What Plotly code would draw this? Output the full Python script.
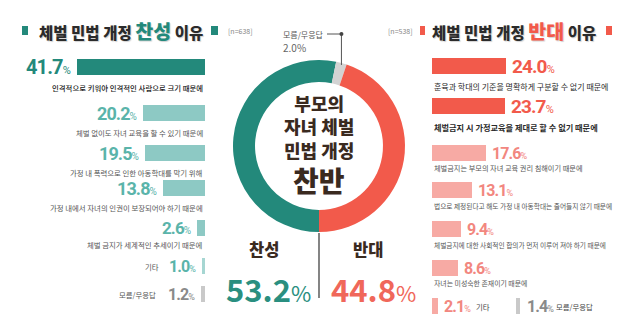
import math
import plotly.graph_objects as go

# ---------------- data ----------------
support_reasons = [
    "인격적으로 키워야 인격적인 사람으로 크기 때문에",
    "체벌 없이도 자녀 교육을 할 수 있기 때문에",
    "가정 내 폭력으로 인한 아동학대를 막기 위해",
    "가정 내에서 자녀의 인권이 보장되어야 하기 때문에",
    "체벌 금지가 세계적인 추세이기 때문에",
    "기타",
    "모름/무응답",
]
support_values = [41.7, 20.2, 19.5, 13.8, 2.6, 1.0, 1.2]

oppose_reasons = [
    "훈육과 학대의 기준을 명확하게 구분할 수 없기 때문에",
    "체벌금지 시 가정교육을 제대로 할 수 없기 때문에",
    "체벌금지는 부모의 자녀 교육 권리 침해이기 때문에",
    "법으로 제정된다고 해도 가정 내 아동학대는 줄어들지 않기 때문에",
    "체벌금지에 대한 사회적인 합의가 먼저 이루어 져야 하기 때문에",
    "자녀는 미성숙한 존재이기 때문에",
    "기타",
]
oppose_values = [24.0, 23.7, 17.6, 13.1, 9.4, 8.6, 2.1]
oppose_unknown_label = "모름/무응답"
oppose_unknown_value = 1.4

overall_labels = ["찬성", "모름/무응답", "반대"]
overall_values = [53.2, 2.0, 44.8]

n_support = 638
n_oppose = 538

# ---------------- layout constants ----------------
W, H = 640, 329
KR = "Noto Sans CJK KR"
NUM = "Roboto, Noto Sans CJK KR"

TEAL_DARK = "#23897b"
TEAL_LIGHT = "#8dc9c4"
TEAL_PALE = "#a6d6d2"
TEAL_TEXT = "#5ab4aa"
RED = "#f25a4b"
PINK = "#f7aaa4"
PINK_TEXT = "#f2877f"
GREY_BAR = "#c9c9c9"
GREY_TEXT = "#8a8a8a"
BROWN = "#3a2a1f"
TITLE_SHADOW = "1px 1px 1px rgba(0,0,0,0.18)"

PX_PER_PCT = 3.07          # bar length per percentage point
L_EDGE = 205               # left bars grow leftwards from here
R_EDGE = 432               # right bars grow rightwards from here
R_UNK_EDGE = 516           # start of the "모름/무응답" bar on the right
SPAN = 45                  # axis span in percent

left_rows = [67, 113, 153, 188, 228, 266, 294]
left_text_rows = [87, 132, 172, 207, 244]
right_rows = [66, 106, 153, 190, 229, 268, 306]
right_text_rows = [86, 127, 168, 206, 245, 283]

support_colors = [TEAL_DARK, TEAL_LIGHT, TEAL_LIGHT, TEAL_LIGHT, TEAL_LIGHT, TEAL_PALE, GREY_BAR]
oppose_colors = [RED, RED, PINK, PINK, PINK, PINK, PINK]


def pxx(x):
    return x / W


def pct(v, pct_size, track=-0.9):
    """Bold, tightly tracked number followed by a light, smaller percent sign."""
    return (f"<span style='letter-spacing:{track}px'><b>{v:.1f}</b></span>"
            f"<span style='font-size:{pct_size}px;font-weight:normal'>%</span>")


fig = go.Figure()

# support reasons (bars grow to the left)
fig.add_trace(go.Bar(
    x=support_values, y=left_rows, orientation="h", width=16,
    marker=dict(color=support_colors, line=dict(width=0)),
    xaxis="x", yaxis="y", hoverinfo="skip", showlegend=False,
))
# oppose reasons (bars grow to the right)
fig.add_trace(go.Bar(
    x=oppose_values, y=right_rows, orientation="h", width=16,
    marker=dict(color=oppose_colors, line=dict(width=0)),
    xaxis="x2", yaxis="y", hoverinfo="skip", showlegend=False,
))
fig.add_trace(go.Bar(
    x=[oppose_unknown_value], y=[right_rows[-1]], orientation="h", width=16,
    marker=dict(color=GREY_BAR, line=dict(width=0)),
    xaxis="x3", yaxis="y", hoverinfo="skip", showlegend=False,
))

# overall donut
cx, cy, r = 319, 146, 86
fig.add_trace(go.Pie(
    values=overall_values, labels=overall_labels, sort=False,
    direction="clockwise", rotation=180, hole=0.744,
    marker=dict(colors=[TEAL_DARK, "#d3d3d3", RED], line=dict(width=0)),
    textinfo="none", hoverinfo="label+percent", showlegend=False,
    domain=dict(x=[pxx(cx - r), pxx(cx + r)], y=[1 - (cy + r) / H, 1 - (cy - r) / H]),
))

ann = []

# percentage labels, support side
left_sizes = [(20, 11), (18, 10), (18, 10), (18, 10), (17, 10), (16, 9), (16, 9)]
left_label_colors = [TEAL_DARK, TEAL_TEXT, TEAL_TEXT, TEAL_TEXT, TEAL_TEXT, TEAL_TEXT, GREY_TEXT]
for v, row, (ns, ps), col in zip(support_values, left_rows, left_sizes, left_label_colors):
    ann.append(dict(xref="x", yref="y", x=v, y=row, xanchor="right", yanchor="middle",
                    xshift=-4, text=pct(v, ps), showarrow=False,
                    font=dict(family=NUM, size=ns, color=col)))
for txt, row, i in zip(support_reasons[:5], left_text_rows, range(5)):
    ann.append(dict(xref="x", yref="y", x=0, y=row, xanchor="right", yanchor="middle",
                    text=txt, showarrow=False,
                    font=dict(family=KR, size=7.4,
                              color="#222222" if i == 0 else "#555555",
                              weight=500 if i == 0 else 400)))
# small captions beside 기타 / 모름
ann.append(dict(xref="paper", yref="y", x=pxx(161), y=left_rows[5], xanchor="right",
                yanchor="middle", text=support_reasons[5], showarrow=False,
                font=dict(family=KR, size=7.4, color="#555555")))
ann.append(dict(xref="paper", yref="y", x=pxx(158), y=left_rows[6], xanchor="right",
                yanchor="middle", text=support_reasons[6], showarrow=False,
                font=dict(family=KR, size=7.4, color="#555555")))

# percentage labels, oppose side
right_sizes = [(19, 11), (19, 11), (16, 9), (16, 9), (16, 9), (16, 9), (16, 9)]
right_label_colors = [RED, RED, PINK_TEXT, PINK_TEXT, PINK_TEXT, PINK_TEXT, PINK_TEXT]
for v, row, (ns, ps), col in zip(oppose_values, right_rows, right_sizes, right_label_colors):
    ann.append(dict(xref="x2", yref="y", x=v, y=row, xanchor="left", yanchor="middle",
                    xshift=4, text=pct(v, ps), showarrow=False,
                    font=dict(family=NUM, size=ns, color=col)))
for txt, row, i in zip(oppose_reasons[:6], right_text_rows, range(6)):
    bold = i == 1
    ann.append(dict(xref="x2", yref="y", x=0, y=row, xanchor="left", yanchor="middle",
                    text=txt, showarrow=False,
                    font=dict(family=KR, size=[8.0, 8.2, 7.2, 6.7, 6.7, 6.9][i],
                              color="#2a2a2a" if i < 2 else "#555555",
                              weight=700 if bold else 400)))
ann.append(dict(xref="paper", yref="y", x=pxx(474), y=right_rows[6], xanchor="left",
                yanchor="middle", text=oppose_reasons[6], showarrow=False,
                font=dict(family=KR, size=7.4, color="#444444")))
ann.append(dict(xref="x3", yref="y", x=oppose_unknown_value, y=right_rows[6], xanchor="left",
                yanchor="middle", xshift=5, text=pct(oppose_unknown_value, 9),
                showarrow=False, font=dict(family=NUM, size=16, color=GREY_TEXT)))
ann.append(dict(xref="paper", yref="y", x=pxx(554), y=right_rows[6], xanchor="left",
                yanchor="middle", text=oppose_unknown_label, showarrow=False,
                font=dict(family=KR, size=7.4, color="#444444")))

# titles
ann.append(dict(xref="paper", yref="y", x=pxx(121), y=30, xanchor="center", yanchor="middle",
                text=f"체벌 민법 개정 <span style='color:{TEAL_DARK};font-size:19.5px'>찬성</span> 이유",
                showarrow=False,
                font=dict(family=KR, size=15.5, color="#2b2b2b", weight=900, shadow=TITLE_SHADOW)))
ann.append(dict(xref="paper", yref="y", x=pxx(514), y=30, xanchor="center", yanchor="middle",
                text=f"체벌 민법 개정 <span style='color:{RED};font-size:19.5px'>반대</span> 이유",
                showarrow=False,
                font=dict(family=KR, size=15.5, color="#2b2b2b", weight=900, shadow=TITLE_SHADOW)))
ann.append(dict(xref="paper", yref="y", x=pxx(240), y=31, xanchor="center", yanchor="middle",
                text=f"[n={n_support}]", showarrow=False,
                font=dict(family=KR, size=7, color="#888888")))
ann.append(dict(xref="paper", yref="y", x=pxx(400), y=31, xanchor="center", yanchor="middle",
                text=f"[n={n_oppose}]", showarrow=False,
                font=dict(family=KR, size=7, color="#888888")))

# donut centre text (one multi-line block plus the large keyword)
ann.append(dict(xref="paper", yref="y", x=pxx(cx), y=126, xanchor="center", yanchor="middle",
                text="부모의<br>자녀 체벌<br>민법 개정", showarrow=False,
                font=dict(family=KR, size=18, color=BROWN, weight=900)))
ann.append(dict(xref="paper", yref="y", x=pxx(cx), y=180, xanchor="center", yanchor="middle",
                text="찬반", showarrow=False,
                font=dict(family=KR, size=28, color=BROWN, weight=900)))

# summary under the donut
ann.append(dict(xref="paper", yref="y", x=pxx(264), y=249, xanchor="center", yanchor="middle",
                text=overall_labels[0], showarrow=False,
                font=dict(family=KR, size=16.5, color=BROWN, weight=900)))
ann.append(dict(xref="paper", yref="y", x=pxx(368), y=249, xanchor="center", yanchor="middle",
                text=overall_labels[2], showarrow=False,
                font=dict(family=KR, size=16.5, color=BROWN, weight=900)))
ann.append(dict(xref="paper", yref="y", x=pxx(268), y=288, xanchor="center", yanchor="middle",
                text=f"<b>{overall_values[0]:.1f}</b><span style='font-size:22px;font-weight:normal'>%</span>",
                showarrow=False, font=dict(family=KR, size=31, color="#2a8f80")))
ann.append(dict(xref="paper", yref="y", x=pxx(373), y=288, xanchor="center", yanchor="middle",
                text=f"<b>{overall_values[2]:.1f}</b><span style='font-size:22px;font-weight:normal'>%</span>",
                showarrow=False, font=dict(family=KR, size=31, color="#f0675a")))

# "모름/무응답" call-out for the donut
ann.append(dict(xref="paper", yref="y", x=pxx(281), y=34, xanchor="left", yanchor="middle",
                text=overall_labels[1], showarrow=False,
                font=dict(family=KR, size=8, color="#555555")))
ann.append(dict(xref="paper", yref="y", x=pxx(281), y=47, xanchor="left", yanchor="middle",
                text=f"{overall_values[1]:.1f}%", showarrow=False,
                font=dict(family=KR, size=10, color="#666666")))

shapes = []
# leader from the small slice up to the call-out
mid = (180 + (overall_values[0] + overall_values[1] / 2) / 100 * 360) % 360
lx = cx + r * math.sin(math.radians(mid))
ly = cy - r * math.cos(math.radians(mid))
shapes.append(dict(type="line", xref="paper", yref="y", x0=pxx(lx), x1=pxx(lx), y0=ly + 2, y1=34,
                   line=dict(color="#555555", width=1)))
shapes.append(dict(type="line", xref="paper", yref="y", x0=pxx(327), x1=pxx(lx), y0=34, y1=34,
                   line=dict(color="#555555", width=1)))
shapes.append(dict(type="circle", xref="paper", yref="y", x0=pxx(lx - 2), x1=pxx(lx + 2),
                   y0=32, y1=36, fillcolor="#444444", line=dict(width=0)))
# divider between the two totals
shapes.append(dict(type="line", xref="paper", yref="y", x0=pxx(cx), x1=pxx(cx), y0=233, y1=298,
                   line=dict(color="#333333", width=1.2)))
# title ribbons
for x0, x1, col in [(22, 28, TEAL_DARK), (211, 218, TEAL_DARK), (420, 425, RED), (606, 612, RED)]:
    shapes.append(dict(type="rect", xref="paper", yref="y", x0=pxx(x0), x1=pxx(x1), y0=26, y1=35,
                       fillcolor=col, line=dict(width=0)))

hidden = dict(visible=False, showgrid=False, zeroline=False, fixedrange=True)
fig.update_layout(
    width=W, height=H, margin=dict(l=0, r=0, t=0, b=0),
    paper_bgcolor="white", plot_bgcolor="rgba(0,0,0,0)",
    bargap=0, barmode="overlay",
    xaxis=dict(domain=[pxx(L_EDGE - SPAN * PX_PER_PCT), pxx(L_EDGE)], range=[SPAN, 0], **hidden),
    xaxis2=dict(domain=[pxx(R_EDGE), pxx(R_EDGE + SPAN * PX_PER_PCT)], range=[0, SPAN],
                anchor="y", **hidden),
    xaxis3=dict(domain=[pxx(R_UNK_EDGE), pxx(R_UNK_EDGE + 10 * PX_PER_PCT)], range=[0, 10],
                anchor="y", **hidden),
    yaxis=dict(domain=[0, 1], range=[H, 0], **hidden),
    annotations=ann, shapes=shapes,
)

fig.write_html("out.html")
